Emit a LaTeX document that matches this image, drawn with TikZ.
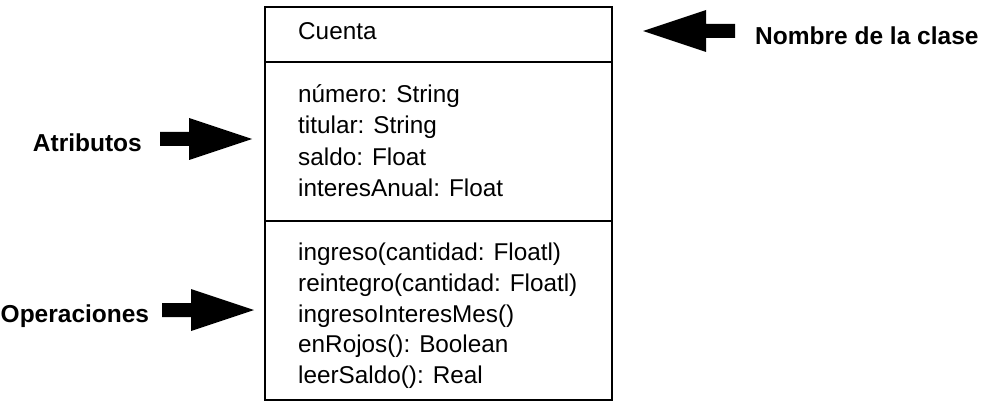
\documentclass[tikz,border=0pt]{standalone}
\usepackage{fontspec}
\setmainfont{Liberation Sans}
\usetikzlibrary{calc}
\tikzset{
  member/.style={anchor=base west, inner sep=0pt, font=\fontsize{24.3}{28}\selectfont},
  tag/.style={inner sep=0pt, font=\fontsize{24.5}{29}\selectfont\bfseries},
  classbox/.style={draw=black, line width=2.4pt},
  divider/.style={draw=black, line width=1.8pt},
}
\newcommand{\fatarrowL}[2]{% tail, tip ; pointing left
  \fill[black] ($(#1)+(0,-7)$) -- ($(#2)+(63,-7)$) -- ($(#2)+(63,-21)$) -- (#2)
    -- ($(#2)+(63,21)$) -- ($(#2)+(63,7)$) -- ($(#1)+(0,7)$) -- cycle;}
\newcommand{\fatarrowR}[2]{% tail, tip ; pointing right
  \fill[black] ($(#1)+(0,-7)$) -- ($(#2)+(-63,-7)$) -- ($(#2)+(-63,-21)$) -- (#2)
    -- ($(#2)+(-63,21)$) -- ($(#2)+(-63,7)$) -- ($(#1)+(0,7)$) -- cycle;}
\begin{document}
\begin{tikzpicture}[x=1pt,y=-1pt]
\useasboundingbox (0,0) rectangle (988,409);
% class box
\draw[classbox] (265,7) rectangle (612,400);
\draw[divider] (265,62) -- (612,62);
\draw[divider] (265,221) -- (612,221);
% name
\node[member] (cname) at (298,40) {Cuenta};
% attributes
\node[member] (a1) at (298,103) {número: String};
\node[member] (a2) at (298,134) {titular: String};
\node[member] (a3) at (298,165) {saldo: Float};
\node[member] (a4) at (298,196) {interesAnual: Float};
% operations
\node[member] (o1) at (298,260) {ingreso(cantidad: Floatl)};
\node[member] (o2) at (298,291) {reintegro(cantidad: Floatl)};
\node[member] (o3) at (298,322) {ingresoInteresMes()};
\node[member] (o4) at (298,352) {enRojos(): Boolean};
\node[member] (o5) at (298,383) {leerSaldo(): Real};
% labels
\node[tag, anchor=base west] (lname) at (755,45) {Nombre de la clase};
\node[tag, anchor=base east] (lattr) at (142,152) {Atributos};
\node[tag, anchor=base west] (lops) at (0.5,322) {Operaciones};
% arrows
\coordinate (nt) at (735,31); \coordinate (nh) at (643,31);
\coordinate (at) at (160,139); \coordinate (ah) at (252,139);
\coordinate (ot) at (162,310); \coordinate (oh) at (254,310);
\fatarrowL{nt}{nh}
\fatarrowR{at}{ah}
\fatarrowR{ot}{oh}
\end{tikzpicture}
\end{document}
